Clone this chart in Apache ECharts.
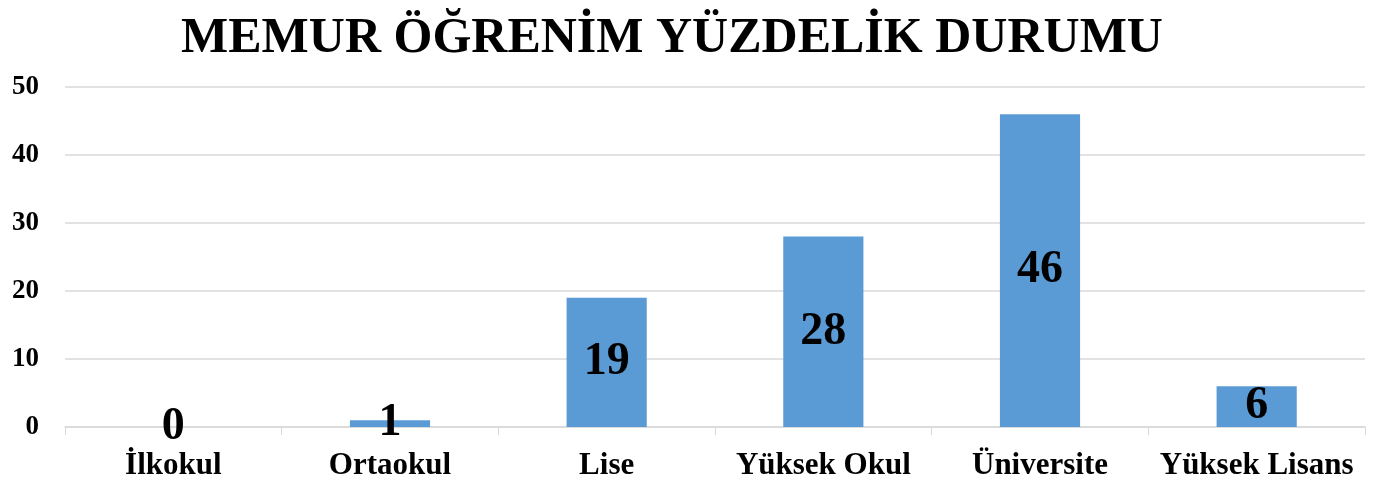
<!DOCTYPE html>
<html>
<head>
<meta charset="utf-8">
<script src="https://cdn.jsdelivr.net/npm/echarts@6/dist/echarts.min.js"></script>
<style>
  html, body { margin: 0; padding: 0; background: #fff; }
  #chart { width: 1381px; height: 481px; }
</style>
</head>
<body>
<div id="chart"></div>
<script>
const titleText = 'MEMUR ÖĞRENİM YÜZDELİK DURUMU'
const categories = ['İlkokul', 'Ortaokul', 'Lise', 'Yüksek Okul', 'Üniversite', 'Yüksek Lisans']
const values = [0, 1, 19, 28, 46, 6]

const serif = '"Liberation Serif", "DejaVu Serif", serif'
const chart = echarts.init(document.getElementById('chart'))

chart.setOption({
  animation: false,
  title: {
    text: titleText,
    left: 667,
    top: 9,
    textAlign: 'center',
    textStyle: { fontFamily: serif, fontSize: 50, fontWeight: 'bold', color: '#000' },
  },
  grid: { left: 65, right: 16, top: 87, bottom: 54 },
  xAxis: {
    type: 'category',
    data: categories,
    axisLine: { lineStyle: { color: '#d9d9d9', width: 1.5 } },
    axisTick: { show: true, length: 8, lineStyle: { color: '#d9d9d9' } },
    axisLabel: {
      interval: 0,
      hideOverlap: false,
      margin: 23,
      color: '#000',
      fontFamily: serif,
      fontSize: 31,
      fontWeight: 'bold',
    },
  },
  yAxis: {
    type: 'value',
    min: 0,
    max: 50,
    interval: 10,
    axisLine: { show: false },
    axisTick: { show: false },
    splitLine: { lineStyle: { color: '#d9d9d9', width: 1.5 } },
    axisLabel: {
      margin: 26,
      color: '#000',
      fontFamily: serif,
      fontSize: 27,
      fontWeight: 'bold',
    },
  },
  series: [
    {
      type: 'bar',
      data: values,
      barWidth: '37%',
      itemStyle: { color: '#5b9bd5' },
      label: {
        show: true,
        position: 'inside',
        color: '#000',
        fontFamily: serif,
        fontSize: 46,
        fontWeight: 'bold',
      },
    },
  ],
})
</script>
</body>
</html>
